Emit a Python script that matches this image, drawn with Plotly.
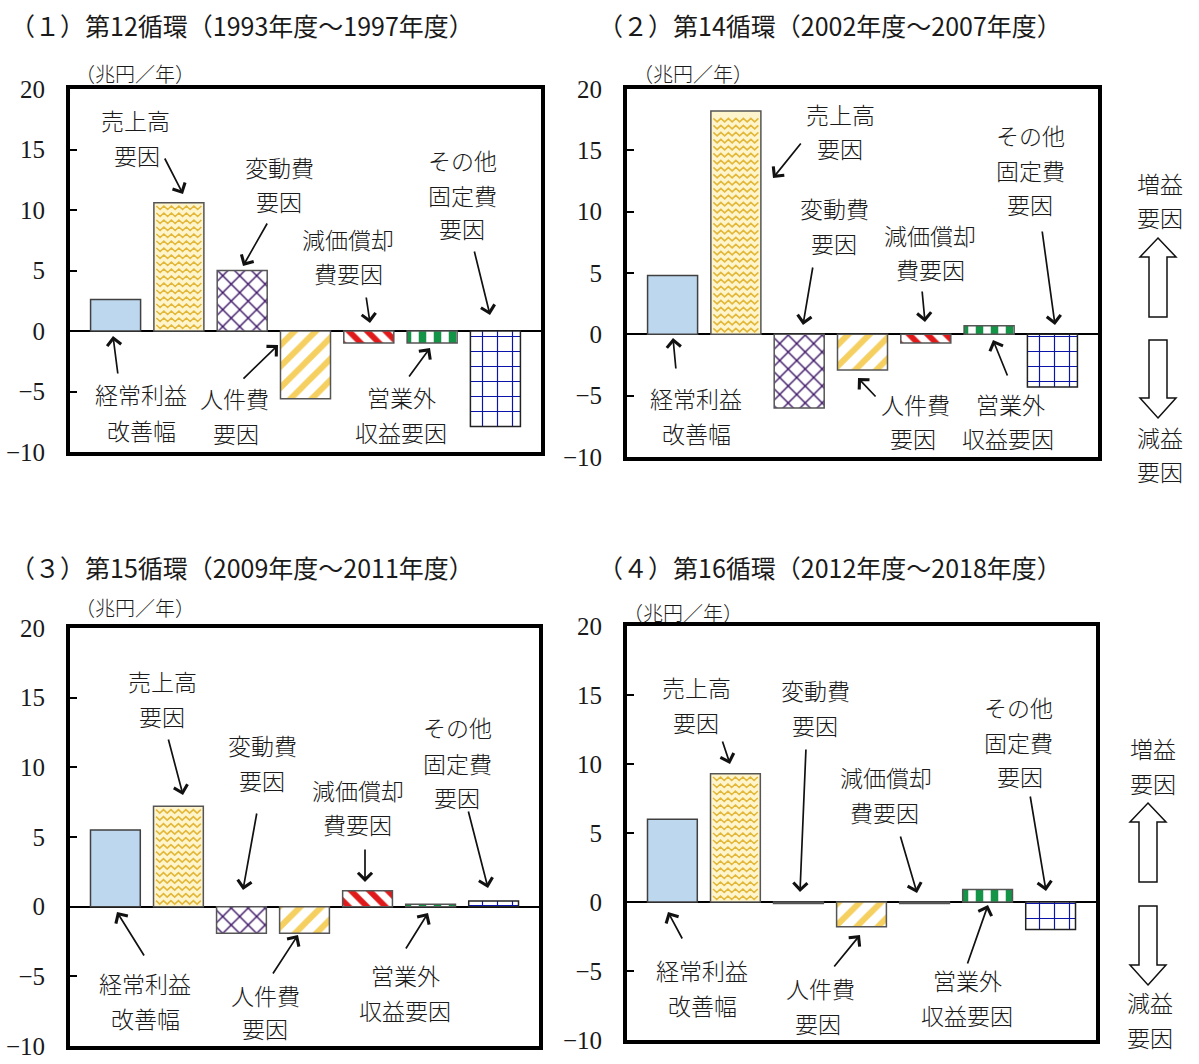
import plotly.graph_objects as go

# ---------------- data ----------------
categories = ["経常利益改善幅", "売上高要因", "変動費要因", "人件費要因",
              "減価償却費要因", "営業外収益要因", "その他固定費要因"]
panel_titles = ["（１）第12循環（1993年度～1997年度）",
                "（２）第14循環（2002年度～2007年度）",
                "（３）第15循環（2009年度～2011年度）",
                "（４）第16循環（2012年度～2018年度）"]
p1_values = [2.6, 10.6, 5.0, -5.6, -1.0, -1.0, -7.9]
p2_values = [4.8, 18.2, -6.0, -2.9, -0.7, 0.7, -4.3]
p3_values = [5.5, 7.2, -1.9, -1.9, 1.15, 0.17, 0.4]
p4_values = [6.0, 9.3, -0.1, -1.8, -0.1, 0.9, -2.0]
y_ticks = [-10, -5, 0, 5, 10, 15, 20]
unit_label = "（兆円／年）"

# ---------------- layout geometry (pixels) ----------------
W, H = 1199, 1064
JP = "Noto Sans CJK JP"
NUM = "Liberation Serif"
geoms = [(70, 541, 89, 452), (627, 1098, 89, 457),
         (70, 539, 628, 1046), (627, 1096, 626, 1040)]
XR = [-0.72, 6.72]
BARW = 0.79

shapes_pat = ["", "", "x", "/", "\\", "|", "+"]
fgcols = ["#BDD7EE", "#FFF5CC", "#3C1466", "#F5D060", "#E01A1A", "#139447", "#0A14A8"]
bgcols = ["#BDD7EE", "#FFF5CC", "#FFFFFF", "#FFFFFF", "#FFFFFF", "#FFFFFF", "#FFFFFF"]
psizes = [10, 10, 12, 15, 13, 15, 15]
psolid = [0.3, 0.3, 0.22, 0.4, 0.45, 0.5, 0.15]
edgecols = ["#404040", "#555555", "#555555", "#555555", "#555555", "#555555", "#222222"]

fig = go.Figure()
all_vals = [p1_values, p2_values, p3_values, p4_values]


def zigzag(vals, idx, geom):
    L, R, T, B = geom
    ppx = (R - L) / (XR[1] - XR[0])
    ppy = (B - T) / 30.0
    v = vals[idx]
    half = BARW / 2 - 2.5 / ppx
    step = 7.0 / ppy
    amp = 3.5 / ppy
    margin = 2.5 / ppy
    sign = 1 if v >= 0 else -1
    xs, ys = [], []
    n = 12
    y0 = margin
    while y0 + amp + margin <= abs(v):
        for j in range(n + 1):
            xs.append(idx - half + j * (2 * half / n))
            ys.append(sign * (y0 + (amp if j % 2 == 0 else 0)))
        xs.append(None)
        ys.append(None)
        y0 += step
    return xs, ys


for p in range(4):
    xa = "x" if p == 0 else f"x{p+1}"
    ya = "y" if p == 0 else f"y{p+1}"
    vals = all_vals[p]
    for i, cat in enumerate(categories):
        fig.add_trace(go.Bar(
            x=[i], y=[vals[i]], xaxis=xa, yaxis=ya, name=cat,
            width=BARW, showlegend=False,
            marker=dict(color=bgcols[i], line=dict(color=edgecols[i], width=1.5),
                        pattern=dict(shape=shapes_pat[i], fgcolor=fgcols[i],
                                     bgcolor=bgcols[i], size=psizes[i],
                                     solidity=psolid[i], fillmode="overlay",
                                     fgopacity=1)),
        ))
    zx, zy = zigzag(vals, 1, geoms[p])
    fig.add_trace(go.Scatter(x=zx, y=zy, xaxis=xa, yaxis=ya, mode="lines",
                             line=dict(color="#E3B83A", width=1.6),
                             hoverinfo="skip", showlegend=False))

    L, R, T, B = geoms[p]
    sfx = "" if p == 0 else str(p + 1)
    fig.layout[f"xaxis{sfx}"] = dict(
        domain=[L / W, R / W], range=XR, anchor=ya, showticklabels=False,
        ticks="", showgrid=False, zeroline=False, showline=True, mirror=True,
        linewidth=4, linecolor="black", automargin=False)
    fig.layout[f"yaxis{sfx}"] = dict(
        domain=[1 - B / H, 1 - T / H], range=[-10, 20], anchor=xa,
        tickvals=y_ticks, ticks="inside", ticklen=7, tickwidth=2, tickcolor="black",
        showgrid=False, zeroline=True, zerolinecolor="black", zerolinewidth=2,
        showline=True, mirror=True, linewidth=4, linecolor="black", automargin=False,
        tickfont=dict(family=NUM, size=25, color="#1a1a1a"), ticklabelstandoff=16)

# ---------------- annotations ----------------
ann = []


def txt(px, py, s, size=23, xanchor="center", fam=JP):
    ann.append(dict(x=px / W, y=1 - py / H, xref="paper", yref="paper", text=s,
                    showarrow=False, xanchor=xanchor, yanchor="middle",
                    font=dict(family=fam, size=size, color="#1a1a1a", weight=300)))


def arr(tx, ty, hx, hy):
    ann.append(dict(x=hx / W, y=1 - hy / H, xref="paper", yref="paper",
                    ax=tx - hx, ay=ty - hy, axref="pixel", ayref="pixel", text="",
                    showarrow=True, arrowhead=4, arrowsize=1.6, arrowwidth=1.7,
                    arrowcolor="#111111", standoff=0))


# titles
title_pos = [(8, 25), (596, 25), (8, 567), (596, 567)]
for (px, py), t in zip(title_pos, panel_titles):
    ann.append(dict(x=px / W, y=1 - py / H, xref="paper", yref="paper", text=t,
                    showarrow=False, xanchor="left", yanchor="middle",
                    font=dict(family=JP, size=25, color="#1a1a1a")))
# unit labels
for px, py in [(135, 73), (693, 73), (135, 607), (683, 612)]:
    txt(px, py, unit_label, size=20)

# label lines: (x, y, text)
label_lines = [
    # panel 1
    (135, 120, "売上高"), (137, 155, "要因"),
    (279, 167, "変動費"), (279, 201, "要因"),
    (348, 239, "減価償却"), (348, 273, "費要因"),
    (462, 160, "その他"), (462, 195, "固定費"), (462, 228, "要因"),
    (141, 394, "経常利益"), (141, 430, "改善幅"),
    (234, 398, "人件費"), (236, 433, "要因"),
    (401, 397, "営業外"), (401, 432, "収益要因"),
    # panel 2
    (840, 114, "売上高"), (840, 148, "要因"),
    (834, 208, "変動費"), (834, 243, "要因"),
    (930, 235, "減価償却"), (930, 269, "費要因"),
    (1030, 135, "その他"), (1030, 170, "固定費"), (1030, 204, "要因"),
    (696, 398, "経常利益"), (696, 433, "改善幅"),
    (915, 404, "人件費"), (913, 438, "要因"),
    (1010, 404, "営業外"), (1008, 438, "収益要因"),
    # panel 3
    (162, 681, "売上高"), (162, 716, "要因"),
    (262, 745, "変動費"), (262, 780, "要因"),
    (358, 790, "減価償却"), (358, 824, "費要因"),
    (457, 727, "その他"), (457, 763, "固定費"), (457, 797, "要因"),
    (145, 983, "経常利益"), (145, 1018, "改善幅"),
    (265, 995, "人件費"), (265, 1028, "要因"),
    (405, 975, "営業外"), (405, 1010, "収益要因"),
    # panel 4
    (696, 687, "売上高"), (696, 722, "要因"),
    (815, 690, "変動費"), (815, 725, "要因"),
    (886, 777, "減価償却"), (884, 812, "費要因"),
    (1018, 707, "その他"), (1018, 742, "固定費"), (1020, 776, "要因"),
    (702, 970, "経常利益"), (702, 1005, "改善幅"),
    (820, 988, "人件費"), (818, 1023, "要因"),
    (967, 980, "営業外"), (967, 1015, "収益要因"),
    # right side
    (1160, 183, "増益"), (1160, 217, "要因"),
    (1160, 437, "減益"), (1160, 471, "要因"),
    (1153, 748, "増益"), (1153, 783, "要因"),
    (1150, 1002, "減益"), (1150, 1037, "要因"),
]
for px, py, s in label_lines:
    txt(px, py, s)

# arrows: (tail_x, tail_y, head_x, head_y)
arrow_list = [
    # panel 1
    (164, 157, 183, 194), (268, 222, 243, 266), (366, 296, 370, 323),
    (474, 250, 490, 315), (118, 375, 113, 336), (242, 380, 278, 345),
    (408, 378, 430, 348),
    # panel 2
    (802, 142, 773, 178), (813, 266, 803, 325), (922, 290, 925, 322),
    (1042, 230, 1055, 325), (676, 370, 673, 338), (877, 398, 858, 378),
    (1008, 377, 993, 340),
    # panel 3
    (168, 738, 183, 795), (257, 812, 243, 890), (365, 848, 365, 882),
    (468, 810, 488, 888), (145, 957, 117, 912), (272, 975, 298, 935),
    (405, 950, 428, 913),
    # panel 4
    (722, 740, 730, 764), (806, 748, 800, 892), (900, 835, 917, 893),
    (1030, 795, 1046, 891), (683, 940, 668, 912), (833, 968, 860, 935),
    (967, 965, 988, 905),
]
for a in arrow_list:
    arr(*a)


# block arrows (up/down) on the right
def block_arrow(cx, tip, base, end):
    hw, sw = 18, 9
    pts = [(cx, tip), (cx + hw, base), (cx + sw, base), (cx + sw, end),
           (cx - sw, end), (cx - sw, base), (cx - hw, base)]
    path = "M " + " L ".join(f"{x / W:.5f},{1 - y / H:.5f}" for x, y in pts) + " Z"
    return dict(type="path", xref="paper", yref="paper", path=path,
                line=dict(color="#111111", width=1.5), fillcolor="white")


shp = [block_arrow(1158, 238, 257, 317), block_arrow(1158, 418, 398, 340),
       block_arrow(1148, 803, 822, 882), block_arrow(1148, 985, 965, 906)]

fig.update_layout(width=W, height=H, margin=dict(l=0, r=0, t=0, b=0, pad=0),
                  autosize=False,
                  paper_bgcolor="white", plot_bgcolor="white",
                  annotations=ann, shapes=shp, showlegend=False, barmode="overlay")
fig.write_html("out.html", config={"displayModeBar": False},
               post_script="document.body.style.margin='0px';"
                           "document.body.style.overflow='hidden';")
